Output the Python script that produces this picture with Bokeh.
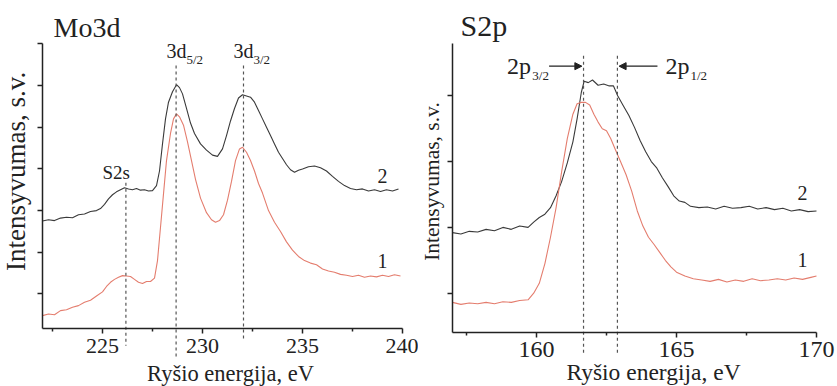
import math
from bokeh.plotting import figure
from bokeh.layouts import row
from bokeh.models import Label, Arrow, NormalHead, FixedTicker, Range1d
from bokeh.embed import file_html
from bokeh.resources import INLINE

# ---------------- data: Mo3d ----------------
mo_x2 = [222.0, 222.3, 222.6, 222.9, 223.2, 223.5, 223.8, 224.1, 224.4, 224.7, 224.9, 225.1, 225.3, 225.5,
         225.7, 225.9, 226.1, 226.3, 226.5, 226.7, 226.9, 227.1, 227.3, 227.5, 227.7, 227.85, 228.0, 228.15,
         228.3, 228.5, 228.7, 228.85, 229.0, 229.2, 229.4, 229.6, 229.9, 230.2, 230.5, 230.75, 231.0, 231.2,
         231.4, 231.6, 231.8, 232.0, 232.2, 232.4, 232.6, 232.8, 233.0, 233.2, 233.4, 233.6, 233.8, 234.0,
         234.2, 234.4, 234.6, 234.8, 235.0, 235.3, 235.6, 235.9, 236.2, 236.5, 236.8, 237.1, 237.4, 237.7,
         238.0, 238.3, 238.6, 238.9, 239.2, 239.5, 239.8]
mo_y2 = [2.75, 2.78, 2.76, 2.82, 2.84, 2.83, 2.9, 2.92, 2.98, 3.0, 3.05, 3.15, 3.28, 3.38,
         3.45, 3.5, 3.55, 3.52, 3.5, 3.53, 3.49, 3.5, 3.47, 3.48, 3.6, 3.95, 4.6, 5.2,
         5.6, 5.85, 6.02, 5.95, 5.8, 5.45, 5.1, 4.85, 4.6, 4.45, 4.33, 4.3, 4.48, 4.8,
         5.15, 5.45, 5.7, 5.78, 5.75, 5.72, 5.6, 5.4, 5.2, 5.0, 4.8, 4.6, 4.4, 4.25,
         4.1, 3.98, 3.92, 3.97, 4.0, 4.05, 4.07, 4.03, 3.95, 3.82, 3.7, 3.6, 3.53, 3.5,
         3.52, 3.47, 3.5, 3.46, 3.5, 3.47, 3.52]

mo_x1 = [222.0, 222.3, 222.6, 222.9, 223.2, 223.5, 223.8, 224.1, 224.4, 224.7, 225.0, 225.2, 225.4, 225.6,
         225.8, 226.0, 226.2, 226.4, 226.6, 226.8, 227.0, 227.2, 227.4, 227.6, 227.75, 227.9, 228.05, 228.2,
         228.4, 228.55, 228.7, 228.85, 229.05, 229.25, 229.45, 229.65, 229.9, 230.2, 230.45, 230.65, 230.85,
         231.05, 231.25, 231.45, 231.65, 231.85, 232.0, 232.2, 232.4, 232.6, 232.8, 233.0, 233.3, 233.6,
         233.9, 234.2, 234.5, 234.8, 235.1, 235.4, 235.7, 236.0, 236.3, 236.6, 236.9, 237.2, 237.5, 237.8,
         238.1, 238.4, 238.7, 239.0, 239.3, 239.6, 239.9]
mo_y1 = [0.48, 0.52, 0.5, 0.6, 0.62, 0.68, 0.72, 0.8, 0.85, 0.95, 1.05, 1.18, 1.28, 1.35,
         1.4, 1.44, 1.43, 1.42, 1.35, 1.28, 1.25, 1.3, 1.3, 1.38, 1.8, 2.6, 3.4, 4.2,
         4.85, 5.2, 5.32, 5.25, 5.05, 4.65, 4.2, 3.75, 3.3, 2.95, 2.78, 2.72, 2.76,
         2.9, 3.25, 3.7, 4.2, 4.48, 4.52, 4.4, 4.2, 3.95, 3.65, 3.42, 3.0, 2.72,
         2.5, 2.25, 2.05, 1.9, 1.8, 1.74, 1.7, 1.6, 1.55, 1.52, 1.47, 1.45, 1.42, 1.45,
         1.4, 1.43, 1.41, 1.45, 1.42, 1.46, 1.43]

mo_peaks = [226.17, 228.68, 232.05]
mo_xticks = [225, 230, 235, 240]
mo_xminor = [222.5, 227.5, 232.5, 237.5]
mo_yticks = [1, 2, 3, 4, 5, 6, 7]

# ---------------- data: S2p ----------------
s_x2 = [157.0, 157.3, 157.6, 157.9, 158.2, 158.5, 158.8, 159.1, 159.4, 159.7, 159.9, 160.1, 160.3, 160.5,
        160.7, 160.9, 161.1, 161.3, 161.45, 161.6, 161.7, 161.85, 162.0, 162.2, 162.4, 162.6, 162.75, 162.9,
        163.1, 163.3, 163.5, 163.7, 163.9, 164.1, 164.3, 164.5, 164.7, 164.9, 165.1, 165.3, 165.5, 165.8,
        166.1, 166.4, 166.7, 167.0, 167.3, 167.6, 167.9, 168.2, 168.5, 168.8, 169.1, 169.4, 169.7, 170.0]
s_y2 = [1.92, 1.9, 1.94, 1.93, 1.97, 1.95, 2.0, 1.97, 2.02, 2.0, 2.08, 2.15, 2.2, 2.3,
        2.48, 2.7, 2.98, 3.3, 3.65, 4.05, 4.22, 4.2, 4.24, 4.16, 4.18, 4.15, 4.15, 4.0,
        3.85, 3.7, 3.52, 3.32, 3.15, 3.0, 2.9, 2.75, 2.62, 2.48, 2.4, 2.38, 2.32, 2.3,
        2.31, 2.28, 2.32, 2.29, 2.3, 2.32, 2.28, 2.3, 2.27, 2.29, 2.25, 2.27, 2.24, 2.25]

s_x1 = [157.0, 157.3, 157.6, 157.9, 158.2, 158.5, 158.8, 159.1, 159.4, 159.7, 159.9, 160.1, 160.3, 160.5,
        160.7, 160.9, 161.1, 161.3, 161.45, 161.6, 161.75, 161.9, 162.05, 162.2, 162.35, 162.5, 162.65,
        162.8, 163.0, 163.2, 163.4, 163.6, 163.8, 164.0, 164.2, 164.4, 164.6, 164.8, 165.0, 165.3, 165.6,
        165.9, 166.2, 166.5, 166.8, 167.1, 167.4, 167.7, 168.0, 168.3, 168.6, 168.9, 169.2, 169.5, 169.8, 170.0]
s_y1 = [0.86, 0.83, 0.85, 0.84, 0.86, 0.84, 0.87, 0.86, 0.89, 0.9, 1.0, 1.15, 1.45, 1.85,
        2.3, 2.85, 3.35, 3.72, 3.88, 3.9, 3.9, 3.86, 3.72, 3.6, 3.5, 3.47, 3.35,
        3.2, 3.0, 2.8, 2.55, 2.25, 2.02, 1.85, 1.74, 1.62, 1.5, 1.4, 1.32, 1.26, 1.22,
        1.2, 1.18, 1.21, 1.17, 1.2, 1.18, 1.22, 1.19, 1.2, 1.22, 1.2, 1.23, 1.21, 1.24, 1.26]

s_peaks = [161.68, 162.89]
s_xticks = [160, 165, 170]
s_xminor = [157.5, 162.5, 167.5]
s_yticks = [1, 2, 3, 4]

BLACK = "#3a3a3a"
RED = "#e47d6e"
TXT = "#222222"
FONT = "Liberation Serif"


def make_fig(width, xr, yr, xbounds, ybounds, xticks, xminor, yticks, tick_size):
    p = figure(width=width, height=386, output_backend="svg", toolbar_location=None,
               x_range=Range1d(*xr), y_range=Range1d(*yr), title=None,
               min_border_left=0, min_border_right=0, min_border_top=0, min_border_bottom=0)
    p.xgrid.visible = False
    p.ygrid.visible = False
    p.outline_line_color = None
    p.xaxis.fixed_location = ybounds[0]
    p.yaxis.fixed_location = xbounds[0]
    p.xaxis.bounds = xbounds
    p.yaxis.bounds = ybounds
    p.xaxis.ticker = FixedTicker(ticks=xticks, minor_ticks=xminor)
    # y axis: unlabeled tick marks only
    p.yaxis.ticker = FixedTicker(ticks=[], minor_ticks=yticks)
    for ax in (p.xaxis[0], p.yaxis[0]):
        ax.axis_line_color = TXT
        ax.axis_line_width = 1.5
        ax.major_tick_line_color = TXT
        ax.major_tick_line_width = 1.5
        ax.minor_tick_line_color = TXT
        ax.minor_tick_line_width = 1.5
        ax.major_tick_in = 0
        ax.major_tick_out = 5
        ax.minor_tick_in = 0
        ax.minor_tick_out = 3
        ax.major_label_text_font = FONT
        ax.major_label_text_color = TXT
    p.yaxis.minor_tick_out = 5
    p.xaxis.major_label_text_font_size = tick_size
    p.xaxis.major_label_standoff = 5
    return p


def lab(p, x, y, text, size, align="left", baseline="alphabetic", angle=0.0):
    p.add_layout(Label(x=x, y=y, text=text, text_font=FONT, text_font_size=size, angle=angle,
                       text_color=TXT, text_align=align, text_baseline=baseline))


def vdash(p, x, y0, y1):
    p.segment(x0=[x], y0=[y0], x1=[x], y1=[y1], line_color="#555555", line_width=1.2, line_dash="3 3")


# ---------------- left panel ----------------
p1 = make_fig(418, (219.9, 240.8), (-1.22, 8.04), (222, 240), (0.16, 7.0),
              mo_xticks, mo_xminor, mo_yticks, "22px")
p1.line(mo_x2, mo_y2, line_color=BLACK, line_width=1.1)
p1.line(mo_x1, mo_y1, line_color=RED, line_width=1.1)
vdash(p1, mo_peaks[0], 3.67, -0.24)
vdash(p1, mo_peaks[1], 6.48, -0.52)
vdash(p1, mo_peaks[2], 6.48, -0.12)
lab(p1, 222.55, 7.39, "Mo3d", "28px")
lab(p1, 225.0, 3.91, "S2s", "19px")
lab(p1, 228.2, 6.84, "3d", "20px")
lab(p1, 229.2, 6.63, "5/2", "13px")
lab(p1, 231.55, 6.84, "3d", "20px")
lab(p1, 232.55, 6.63, "3/2", "13px")
lab(p1, 238.75, 3.84, "2", "20px")
lab(p1, 238.75, 1.78, "1", "20px")
lab(p1, 231.4, -0.906, "Ryšio energija, eV", "22.5px", align="center", baseline="middle")
lab(p1, 220.65, 3.94, "Intensyvumas, s.v.", "27px", align="center", baseline="middle", angle=math.pi / 2)

# ---------------- right panel ----------------
p2 = make_fig(419, (155.786, 170.75), (-0.418, 5.448), (157, 170), (0.41, 4.79),
              s_xticks, s_xminor, s_yticks, "24px")
p2.line(s_x2, s_y2, line_color=BLACK, line_width=1.1)
p2.line(s_x1, s_y1, line_color=RED, line_width=1.1)
vdash(p2, s_peaks[0], 4.61, 0.08)
vdash(p2, s_peaks[1], 4.61, 0.08)
p2.add_layout(Arrow(x_start=160.45, y_start=4.45, x_end=161.62, y_end=4.45, line_color=TXT,
                    line_width=1.1, end=NormalHead(size=7, fill_color=TXT, line_color=TXT)))
p2.add_layout(Arrow(x_start=164.32, y_start=4.45, x_end=162.95, y_end=4.45, line_color=TXT,
                    line_width=1.1, end=NormalHead(size=7, fill_color=TXT, line_color=TXT)))
lab(p2, 157.29, 5.07, "S2p", "30px")
lab(p2, 158.95, 4.45, "2p", "24px")
lab(p2, 159.85, 4.31, "3/2", "13px")
lab(p2, 164.61, 4.45, "2p", "24px")
lab(p2, 165.5, 4.31, "1/2", "13px")
lab(p2, 169.32, 2.52, "2", "20px")
lab(p2, 169.32, 1.50, "1", "20px")
lab(p2, 164.18, -0.2, "Ryšio energija, eV", "23.5px", align="center", baseline="middle")
lab(p2, 156.275, 2.697, "Intensyvumas, s.v.", "21.5px", align="center", baseline="middle", angle=math.pi / 2)

layout = row(p1, p2)
open("out.html", "w").write(file_html(layout, INLINE))
